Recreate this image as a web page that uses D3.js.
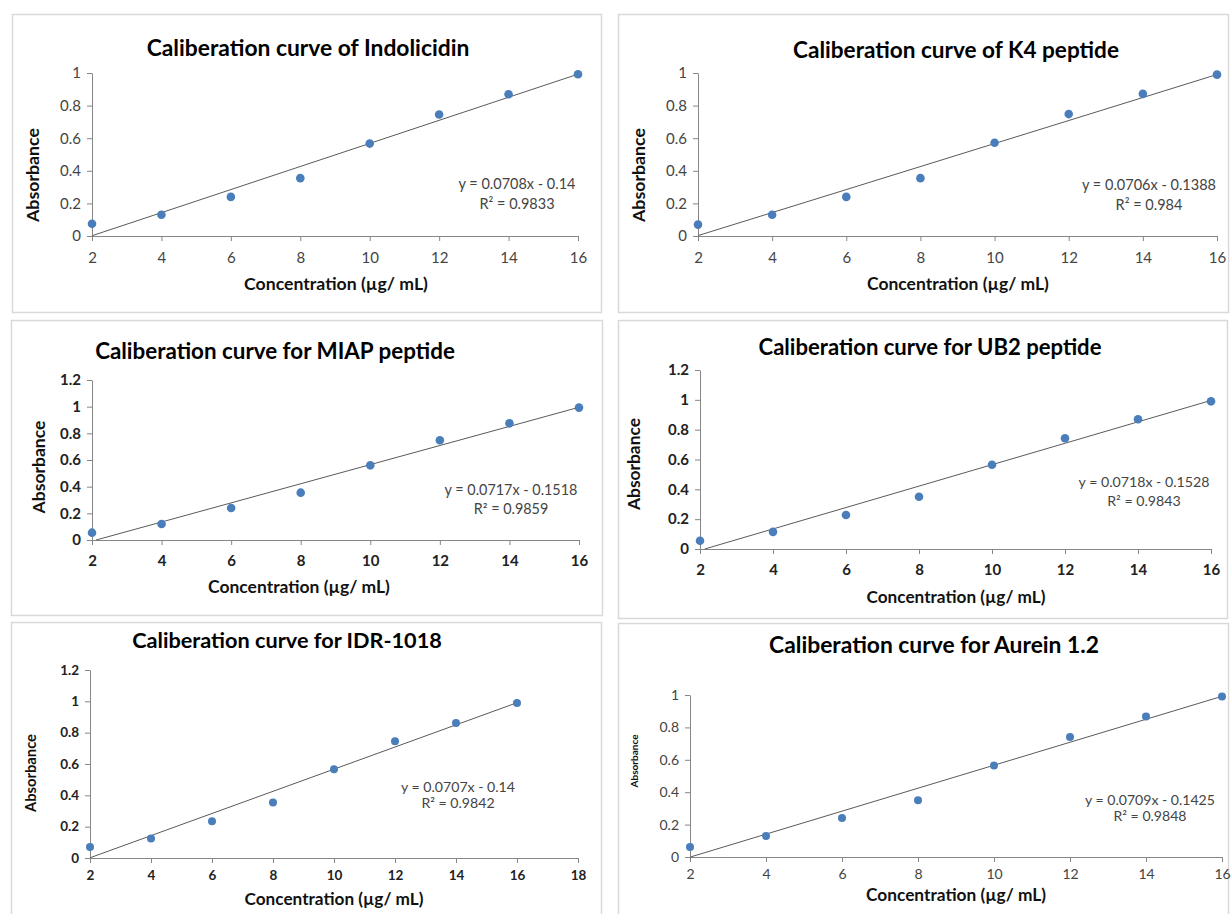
<!DOCTYPE html>
<html>
<head>
<meta charset="utf-8">
<script src="https://cdn.jsdelivr.net/npm/d3@7"></script>
<style>
  body { margin: 0; background: #fff; }
  svg { display: block; }
</style>
</head>
<body>
<svg id="chart" width="1231" height="914"></svg>
<script>
// concentration points (µg/mL)
const conc = [2, 4, 6, 8, 10, 12, 14, 16];

// absorbance
const indolicidin = [0.075, 0.13, 0.24, 0.355, 0.567, 0.745, 0.87, 0.992];
const k4 = [0.07, 0.13, 0.24, 0.355, 0.572, 0.748, 0.872, 0.99];
const miap = [0.055, 0.12, 0.24, 0.355, 0.56, 0.748, 0.875, 0.993];
const ub2 = [0.055, 0.115, 0.228, 0.35, 0.565, 0.742, 0.87, 0.99];
const idr1018 = [0.07, 0.125, 0.235, 0.355, 0.567, 0.745, 0.862, 0.99];
const aurein = [0.062, 0.13, 0.24, 0.35, 0.565, 0.74, 0.868, 0.99];

const titles = [
  'Caliberation curve of Indolicidin',
  'Caliberation curve of K4 peptide',
  'Caliberation curve for MIAP peptide',
  'Caliberation curve for UB2 peptide',
  'Caliberation curve for IDR-1018',
  'Caliberation curve for Aurein 1.2'
];
const slopes = [0.0708, 0.0706, 0.0717, 0.0718, 0.0707, 0.0709];
const intercepts = [-0.14, -0.1388, -0.1518, -0.1528, -0.14, -0.1425];
const r2 = ['0.9833', '0.984', '0.9859', '0.9843', '0.9842', '0.9848'];
const eqLabels = [
  'y = 0.0708x - 0.14', 'y = 0.0706x - 0.1388', 'y = 0.0717x - 0.1518',
  'y = 0.0718x - 0.1528', 'y = 0.0707x - 0.14', 'y = 0.0709x - 0.1425'
];
const xMax = [16, 16, 16, 16, 18, 16];
const yMax = [1, 1, 1.2, 1.2, 1.2, 1];
const series = [indolicidin, k4, miap, ub2, idr1018, aurein];

// panel layout in page pixels: [centre x, centre y, width] for texts
const layout = [
  { box: [12, 14, 589, 298], x0: 92, x1: 578, y0: 236, y1: 73,
    title: [308, 47, 323], xLab: [336, 283, 184], yLab: [32, 175, 94],
    eq: [517, 183, 203, 117], tick: 15, bold: false, tickOff: 22, r: 4.3 },
  { box: [618, 14, 610, 298], x0: 698, x1: 1217, y0: 236, y1: 73,
    title: [956, 49, 326], xLab: [958, 283, 182], yLab: [638, 175, 94],
    eq: [1149, 184, 204, 134], tick: 15, bold: false, tickOff: 22, r: 4.3 },
  { box: [11, 320, 591, 295], x0: 92, x1: 579, y0: 540, y1: 380,
    title: [275, 350, 360], xLab: [299, 586, 182], yLab: [38, 467, 93],
    eq: [511, 489, 508, 133], tick: 15, bold: true, tickOff: 21, r: 4.3 },
  { box: [618, 320, 609, 298], x0: 700, x1: 1211, y0: 549, y1: 370,
    title: [930, 346, 343], xLab: [956, 596, 179], yLab: [633, 464, 92],
    eq: [1144, 481, 500, 131], tick: 15, bold: true, tickOff: 21, r: 4.3 },
  { box: [11, 622, 590, 300], x0: 90, x1: 578, y0: 858, y1: 670,
    title: [287, 640, 310], xLab: [334, 898, 179], yLab: [30, 773, 78],
    eq: [458, 786, 802, 114], tick: 13.5, bold: true, tickOff: 17, r: 4 },
  { box: [618, 623, 610, 300], x0: 690, x1: 1222, y0: 857, y1: 695,
    title: [934, 644, 330], xLab: [956, 894, 180], yLab: [634, 761, 53],
    eq: [1150, 799, 815, 130], tick: 14, bold: false, tickOff: 17, r: 4 }
];

const svg = d3.select('#chart');
const font = 'Lato, "Open Sans", sans-serif';
const axisColor = '#868686';
const dotColor = '#4a7ebb';

// scale a text's font size so that it spans the given width
function fitText(sel, width) {
  const base = 20;
  sel.attr('font-size', base);
  const w = sel.node().getComputedTextLength();
  const size = base * width / w;
  sel.attr('font-size', size);
  return size;
}

layout.forEach((L, i) => {
  const g = svg.append('g');

  // chart border
  g.append('rect')
    .attr('x', L.box[0] + 0.5).attr('y', L.box[1] + 0.5)
    .attr('width', L.box[2]).attr('height', L.box[3])
    .attr('fill', '#fff').attr('stroke', '#d9d9d9').attr('stroke-width', 1.5);

  const x = d3.scaleLinear().domain([2, xMax[i]]).range([L.x0, L.x1]);
  const y = d3.scaleLinear().domain([0, yMax[i]]).range([L.y0, L.y1]);

  const xTicks = d3.range(2, xMax[i] + 1, 2);
  const yTicks = d3.range(0, yMax[i] + 0.001, 0.2).map(v => +v.toFixed(1));

  const xAxis = g.append('g')
    .attr('transform', `translate(0,${L.y0})`)
    .call(d3.axisBottom(x).tickValues(xTicks).tickFormat(d3.format('d')).tickSize(5).tickSizeOuter(0));
  const yAxis = g.append('g')
    .attr('transform', `translate(${L.x0},0)`)
    .call(d3.axisLeft(y).tickValues(yTicks).tickFormat(d => String(d)).tickSize(5).tickSizeOuter(0));

  [xAxis, yAxis].forEach(a => {
    a.select('.domain').attr('stroke', axisColor);
    a.selectAll('.tick line').attr('stroke', axisColor);
    a.selectAll('.tick text')
      .attr('font-family', font)
      .attr('font-size', L.tick)
      .attr('font-weight', L.bold ? 'bold' : 'normal')
      .attr('fill', L.bold ? '#222' : '#444');
  });
  xAxis.selectAll('.tick text').attr('y', L.tickOff).attr('dy', '0.35em');
  yAxis.selectAll('.tick text').attr('x', -11);

  // linear trendline, clipped to the plot area
  const xs = Math.max(2, -intercepts[i] / slopes[i]);
  const line = d3.line().x(d => x(d[0])).y(d => y(d[1]));
  g.append('path')
    .attr('d', line([[xs, slopes[i] * xs + intercepts[i]], [16, slopes[i] * 16 + intercepts[i]]]))
    .attr('fill', 'none').attr('stroke', '#5a5a5a').attr('stroke-width', 1);

  // data points
  g.selectAll('circle.pt')
    .data(conc.map((c, j) => [c, series[i][j]]))
    .join('circle')
    .attr('class', 'pt')
    .attr('cx', d => x(d[0])).attr('cy', d => y(d[1]))
    .attr('r', L.r).attr('fill', dotColor);

  // title
  const t = g.append('text')
    .attr('x', L.title[0]).attr('y', L.title[1])
    .attr('text-anchor', 'middle').attr('dominant-baseline', 'central')
    .attr('font-family', font).attr('font-weight', 'bold').attr('fill', '#000')
    .text(titles[i]);
  fitText(t, L.title[2]);

  // x axis title
  const xl = g.append('text')
    .attr('x', L.xLab[0]).attr('y', L.xLab[1])
    .attr('text-anchor', 'middle').attr('dominant-baseline', 'central')
    .attr('font-family', font).attr('font-weight', 'bold').attr('fill', '#111')
    .text('Concentration (µg/ mL)');
  fitText(xl, L.xLab[2]);

  // y axis title
  const yl = g.append('text')
    .attr('transform', `translate(${L.yLab[0]},${L.yLab[1]}) rotate(-90)`)
    .attr('text-anchor', 'middle').attr('dominant-baseline', 'central')
    .attr('font-family', font).attr('font-weight', 'bold').attr('fill', '#111')
    .text('Absorbance');
  fitText(yl, L.yLab[2]);

  // trendline equation
  const e1 = g.append('text')
    .attr('x', L.eq[0]).attr('y', L.eq[1])
    .attr('text-anchor', 'middle').attr('dominant-baseline', 'central')
    .attr('font-family', font).attr('fill', '#444')
    .text(eqLabels[i]);
  const eqSize = fitText(e1, L.eq[3]);
  g.append('text')
    .attr('x', L.eq[0]).attr('y', L.eq[2])
    .attr('text-anchor', 'middle').attr('dominant-baseline', 'central')
    .attr('font-family', font).attr('font-size', eqSize).attr('fill', '#444')
    .text('R² = ' + r2[i]);
});
</script>
</body>
</html>
